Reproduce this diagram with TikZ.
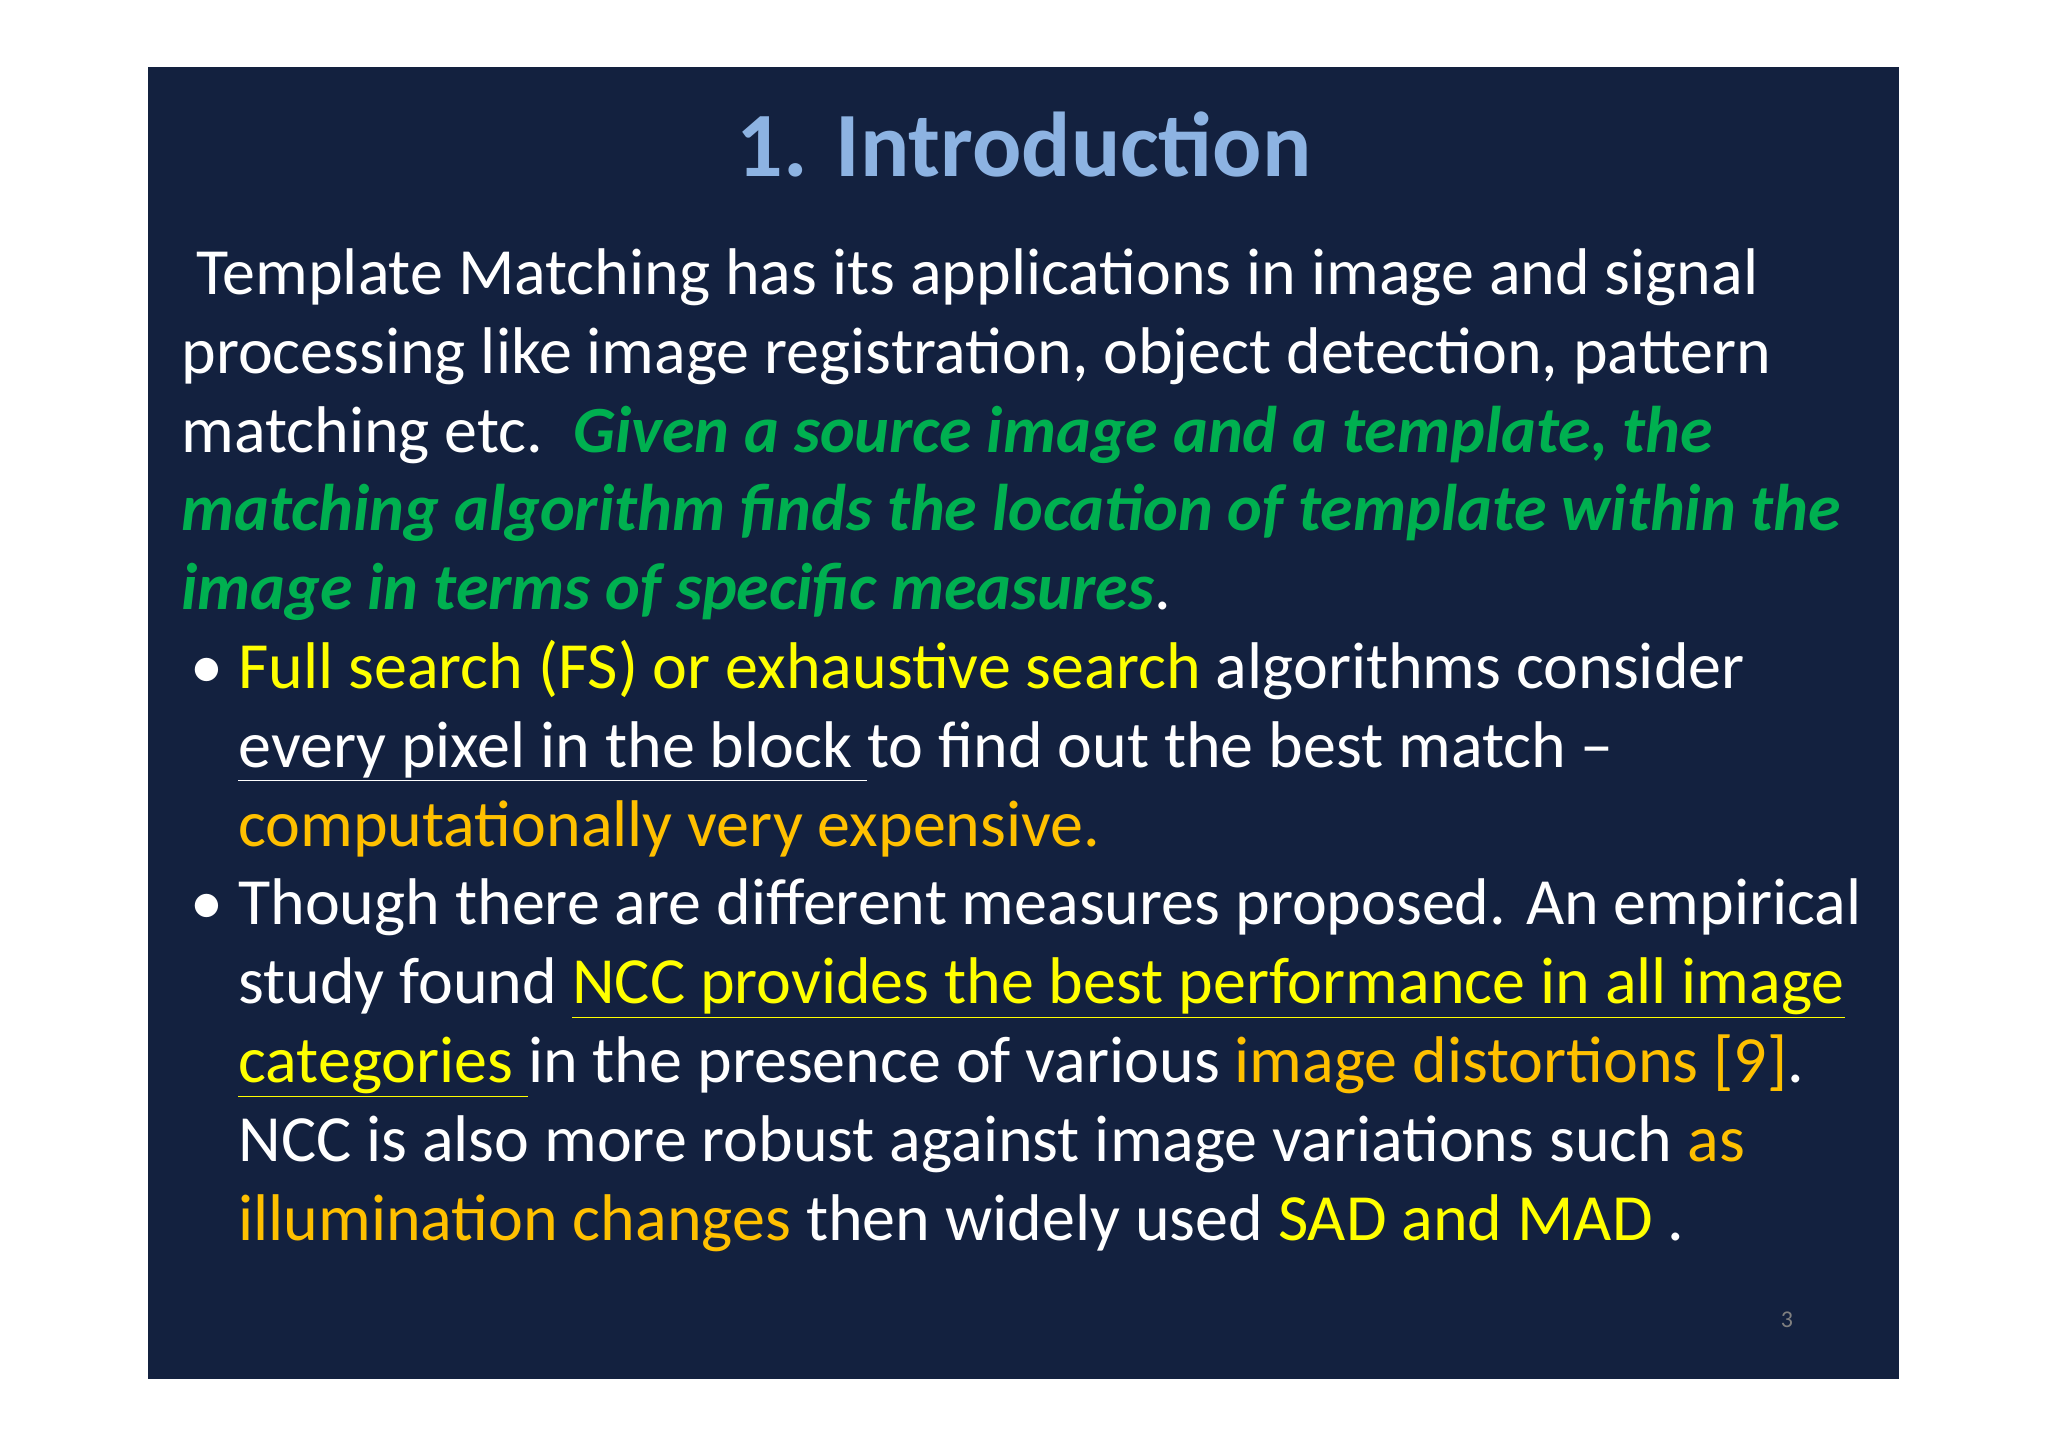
\documentclass[tikz,border=0pt]{standalone}
\usepackage{fontspec}
\setmainfont{Carlito}
\definecolor{bg}{HTML}{13213F}
\definecolor{ttl}{HTML}{8DB3E2}
\definecolor{grn}{HTML}{00B050}
\definecolor{yel}{HTML}{FFFF00}
\definecolor{org}{HTML}{FFC000}
\tikzset{ln/.style={anchor=base west,inner sep=0pt,text=white,font=\fontsize{33}{40}\selectfont}}
\begin{document}
\begin{tikzpicture}[x=0.5pt,y=-0.5pt]
\useasboundingbox (0,0) rectangle (2048,1447);
\fill[white] (0,0) rectangle (2048,1447);
\fill[bg] (148,67) rectangle (1899,1379);
\node[inner sep=0pt,text=ttl,font=\fontsize{46}{50}\selectfont\bfseries] (t) at (1024,144) {1. Introduction};
\def\L{181}\def\B{238}
\node[ln] (l1) at (\L,294) {\ Template Matching has its applications in image and signal};
\node[ln] (l2) at (\L,373) {processing like image registration, object detection, pattern};
\node[ln] (l3) at (\L,452) {matching etc.\ \ \textcolor{grn}{\bfseries\itshape Given a source image and a template, the}};
\node[ln] (l4) at (\L,530) {\textcolor{grn}{\bfseries\itshape matching algorithm finds the location of template within the}};
\node[ln] (l5) at (\L,609) {\textcolor{grn}{\bfseries\itshape image in terms of specific measures}.};
\node[ln] (b1) at (190,688) {•};
\node[ln] (l6) at (\B,688) {\textcolor{yel}{Full search (FS) or exhaustive search} algorithms consider};
\node[ln] (l7) at (\B,767) {\underline{every pixel in the block\ }to find out the best match --};
\node[ln] (l8) at (\B,846) {\textcolor{org}{computationally very expensive.}};
\node[ln] (b2) at (190,924) {•};
\node[ln] (l9) at (\B,924) {Though there are different measures proposed. An empirical};
\node[ln] (l10) at (\B,1003) {study found \textcolor{yel}{\underline{NCC provides the best performance in all image}}};
\node[ln] (l11) at (\B,1082) {\textcolor{yel}{\underline{categories\ }}in the presence of various \textcolor{org}{image distortions [9]}.};
\node[ln] (l12) at (\B,1161) {NCC is also more robust against image variations such \textcolor{org}{as}};
\node[ln] (l13) at (\B,1240) {\textcolor{org}{illumination changes} then widely used \textcolor{yel}{SAD and MAD} .};
\node[inner sep=0pt,text=gray,font=\fontsize{12}{14}\selectfont] (pn) at (1787,1320) {3};
\end{tikzpicture}
\end{document}
